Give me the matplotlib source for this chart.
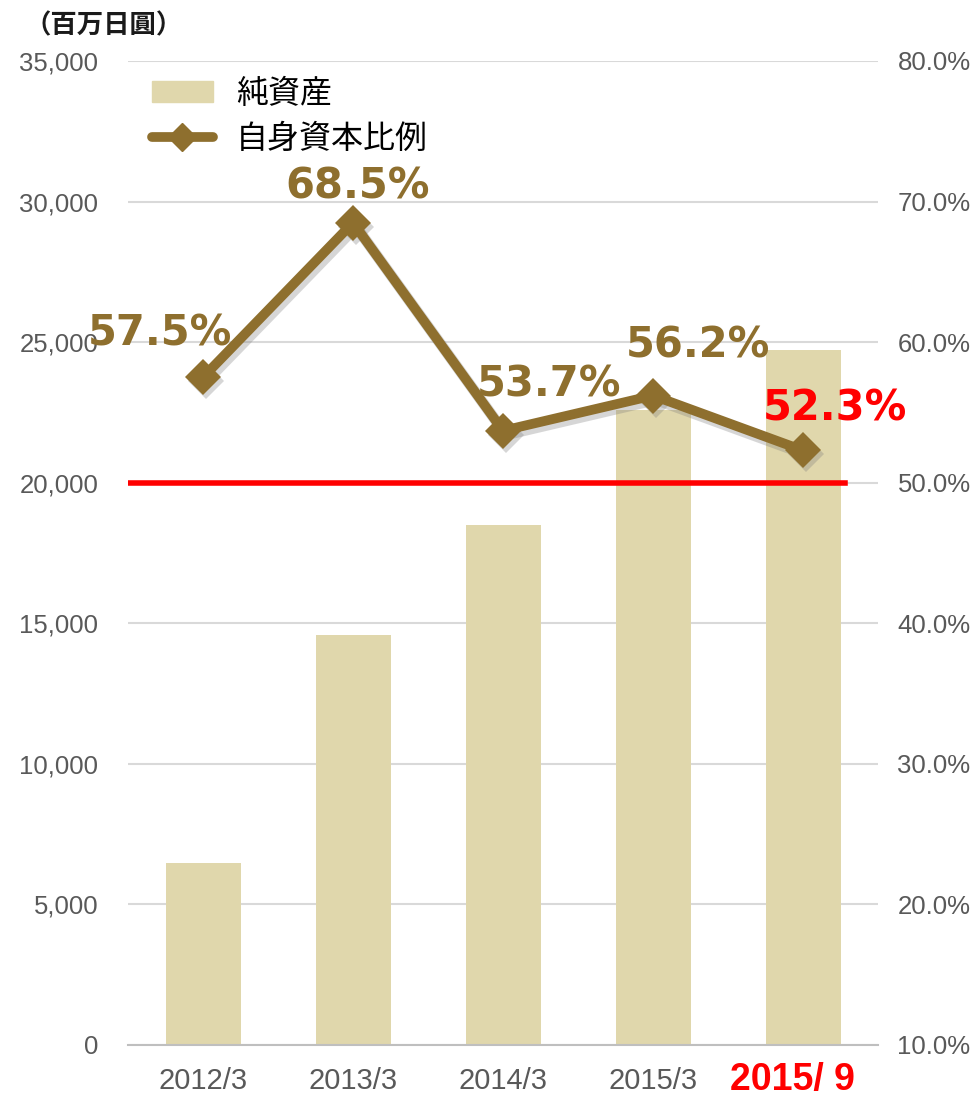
import matplotlib
matplotlib.use("Agg")
import matplotlib.pyplot as plt
import matplotlib.transforms as mtransforms
from matplotlib.lines import Line2D
from matplotlib.patches import Patch
from matplotlib.ticker import FuncFormatter, MultipleLocator

categories = ["2012/3", "2013/3", "2014/3", "2015/3", "2015/ 9"]
net_assets = [6470, 14580, 18490, 22600, 24720]
equity_ratio = [57.5, 68.5, 53.7, 56.2, 52.3]
ratio_labels = ["57.5%", "68.5%", "53.7%", "56.2%", "52.3%"]
label_offsets_px = [(-43, 44), (5, 36), (46, 46), (45, 50), (32, 42)]
label_colors = ["#8E6F2E", "#8E6F2E", "#8E6F2E", "#8E6F2E", "#FF0000"]
threshold = 50.0

CJK = ["Noto Sans CJK JP", "DejaVu Sans"]
TICKF = ["Liberation Sans", "DejaVu Sans"]

bar_color = "#E0D7AC"
line_color = "#8E6F2E"
grid_color = "#D9D9D9"
tick_color = "#595959"

fig = plt.figure(figsize=(9.75, 10.96), dpi=100)
W, H = 975, 1096
left, right, top, bottom = 128, 878, 61, 1045
ax = fig.add_axes([left / W, 1 - bottom / H, (right - left) / W, (bottom - top) / H])
ax2 = ax.twinx()

x = list(range(len(categories)))
ax.bar(x, net_assets, width=0.5, color=bar_color, zorder=2)
ax.set_xlim(-0.5, len(categories) - 0.5)
ax.set_ylim(0, 35000)
ax.yaxis.set_major_locator(MultipleLocator(5000))
ax.yaxis.set_major_formatter(FuncFormatter(lambda v, p: f"{int(v):,}"))
ax.grid(axis="y", color=grid_color, linewidth=1.5, zorder=0)
ax.set_axisbelow(True)
for s in ["top", "right", "left"]:
    ax.spines[s].set_visible(False)
ax.spines["bottom"].set_color("#BFBFBF")
ax.spines["bottom"].set_linewidth(1.5)
for s in ["top", "right", "left", "bottom"]:
    ax2.spines[s].set_visible(False)
ax.tick_params(axis="y", length=0, pad=21.5, labelsize=18.5, labelcolor=tick_color)
ax.tick_params(axis="x", length=0, pad=16)
for lab in ax.get_yticklabels():
    lab.set_fontfamily(TICKF)
ax.set_xticks(x)
# last category is drawn as a highlighted text below
ax.set_xticklabels(categories[:-1] + [""])
for lab in ax.get_xticklabels():
    lab.set_fontfamily(TICKF)
    lab.set_fontsize(21)
    lab.set_color(tick_color)
fig.text(792 / W, 1 - 1080 / H, categories[-1], family=TICKF, fontsize=27, fontweight="bold",
         color="#FF0000", ha="center", va="center")

ax2.set_ylim(10, 80)
ax2.yaxis.set_major_locator(MultipleLocator(10))
ax2.yaxis.set_major_formatter(FuncFormatter(lambda v, p: f"{v:.1f}%"))
ax2.tick_params(axis="y", length=0, pad=14, labelsize=18.5, labelcolor=tick_color)
for lab in ax2.get_yticklabels():
    lab.set_fontfamily(TICKF)

ax2.axhline(threshold, xmin=0, xmax=(845 - left) / (right - left), color="#FF0000", linewidth=4, zorder=3)

shadow_tr = mtransforms.offset_copy(ax2.transData, fig=fig, x=3, y=-4, units="dots")
ax2.plot(x, equity_ratio, color="#7a7a7a", alpha=0.3, linewidth=8, marker="D", markersize=18,
         markeredgewidth=0, transform=shadow_tr, zorder=4)
ax2.plot(x, equity_ratio, color=line_color, linewidth=7, marker="D", markersize=18,
         markeredgewidth=0, solid_joinstyle="miter", zorder=5)

for xi, yi, lab, off, c in zip(x, equity_ratio, ratio_labels, label_offsets_px, label_colors):
    ax2.annotate(lab, (xi, yi), xytext=off, textcoords="offset pixels", ha="center", va="center",
                 fontsize=30, fontweight="bold", color=c, family=["DejaVu Sans"], zorder=6)

handles = [Patch(facecolor=bar_color, edgecolor=bar_color),
           Line2D([0], [0], color=line_color, linewidth=7, marker="D", markersize=14,
                  solid_capstyle="round")]
leg = ax2.legend(handles, ["純資産", "自身資本比例"], loc="upper left",
                 bbox_to_anchor=((152 - left) / (right - left), 1 - (78 - top) / (bottom - top)),
                 frameon=False, prop={"family": CJK, "size": 23}, handlelength=1.9, handleheight=0.65,
                 labelspacing=0.42, handletextpad=0.72, borderaxespad=0, borderpad=0)

fig.text(24 / W, 1 - 26 / H, "（百万日圓）", family=CJK, fontsize=19, fontweight="bold",
         ha="left", va="center", color="#1a1a1a")

fig.savefig("out.png", dpi=100)
